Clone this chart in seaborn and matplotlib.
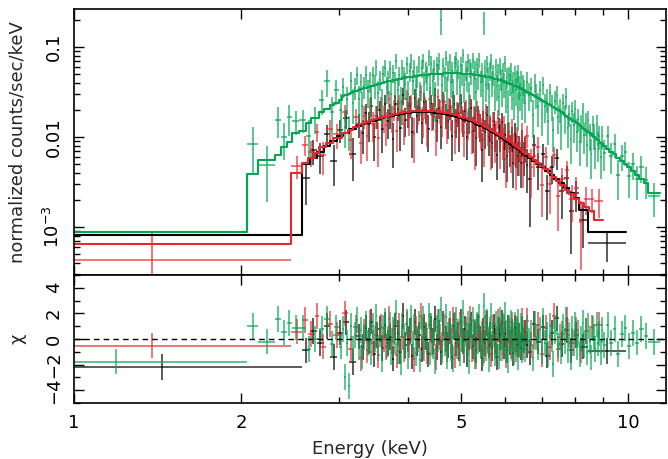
import numpy as np
import matplotlib
matplotlib.use("Agg")
import matplotlib.pyplot as plt
import seaborn as sns
from matplotlib.ticker import FixedLocator, FixedFormatter, NullFormatter, LogLocator, MultipleLocator

# bin edges in keV; data, 1-sigma errors and folded model in 1e-3 counts/sec/keV
black_edges = [1.00, 2.58, 2.66, 2.74, 2.82, 2.90, 2.98, 3.06, 3.14, 3.22, 3.30,
               3.34, 3.38, 3.42, 3.46, 3.50, 3.54, 3.58, 3.62, 3.66, 3.70, 3.74, 3.78, 3.82, 3.86, 3.90,
               3.94, 3.98, 4.02, 4.06, 4.10, 4.14, 4.18, 4.22, 4.26, 4.30, 4.34, 4.38, 4.42, 4.46, 4.50,
               4.54, 4.58, 4.62, 4.66, 4.70, 4.74, 4.78, 4.82, 4.86, 4.90, 4.94, 4.98, 5.02, 5.06, 5.10,
               5.14, 5.18, 5.22, 5.26, 5.30, 5.34, 5.38, 5.42, 5.46, 5.50, 5.54, 5.58, 5.62, 5.66, 5.70,
               5.74, 5.78, 5.82, 5.86, 5.90, 5.94, 5.98, 6.02, 6.06, 6.10, 6.14, 6.18, 6.22, 6.26, 6.30,
               6.34, 6.38, 6.42, 6.46, 6.50, 6.54, 6.58,
               6.70, 6.82, 6.95, 7.08, 7.22, 7.36, 7.51, 7.66, 7.82, 7.98, 8.15, 8.45, 9.90]
black_model = [0.82, 5.0, 5.8, 6.9, 8.0, 9.1, 10.2, 11.2, 12.2, 13.2,
               13.8, 14.2, 14.5, 14.9, 15.2, 15.6, 15.9, 16.2, 16.5, 16.8, 17.0, 17.2, 17.5, 17.7, 17.9,
               18.1, 18.3, 18.5, 18.6, 18.8, 18.9, 18.9, 19.0, 19.0, 19.0, 19.0, 18.9, 18.8, 18.8, 18.6,
               18.6, 18.4, 18.3, 18.1, 17.9, 17.7, 17.5, 17.3, 17.1, 16.9, 16.6, 16.4, 16.1, 15.9, 15.6,
               15.4, 15.1, 14.9, 14.6, 14.3, 14.0, 13.7, 13.4, 13.1, 12.8, 12.5, 12.2, 11.9, 11.6, 11.3,
               11.0, 10.8, 10.5, 10.2, 9.9, 9.7, 9.4, 9.2, 8.9, 8.7, 8.4, 8.2, 8.0, 7.8, 7.5, 7.3,
               7.1, 6.9, 6.7, 6.5, 6.3, 6.1,
               5.8, 5.4, 5.0, 4.6, 4.2, 3.8, 3.4, 3.05, 2.7, 2.4, 2.1, 1.55, 0.89]
black_err = [0.6, 1.7, 2.2, 2.3, 2.8, 2.6, 3.4, 3.8, 3.2, 4.2,
             4.5, 5, 5, 5.5, 4.5, 5, 5, 5.5, 6, 5.5, 5.5, 5, 6, 5.5, 5.5, 6, 5.5, 6, 6, 5.5,
             6.5, 6, 6, 6, 6, 6, 5.5, 6, 6, 6.5, 6, 5.5, 5.5, 6, 5.5, 5.5, 5.5, 5, 6, 5.5,
             5.5, 5.5, 6, 5, 5, 4.5, 5, 5.5, 5, 5, 5, 4.5, 4.5, 4, 4, 4, 4.5, 4, 4, 4,
             4, 3.5, 3, 3.5, 3.5, 4, 3.5, 3.5, 3, 3, 3, 3, 2.5, 3.5, 3, 2.5, 2.5, 2.5, 3, 2.5,
             2.5, 2.5,
             2.4, 2.3, 2.0, 2.0, 1.3, 1.6, 1.5, 1.3, 1.2, 1.0, 0.9, 0.6, 0.25]
black_data = [-0.5, 3.47, 7.12, 6.21, 10.8, 5.46, 11.9, 16.14, 6.44, 14.04,
              11.0, 18.5, 13.8, 22.4, 9.9, 17.2, 19.9, 12.2, 23.1, 15.1, 17.9, 9.5, 23.6, 20.4, 12.5,
              29.0, 15.6, 18.5, 22.3, 11.3, 27.4, 17.0, 20.9, 14.3, 24.7, 20.0, 12.3, 23.5, 17.9, 28.8,
              14.9, 21.2, 12.8, 25.3, 17.9, 15.0, 21.0, 10.4, 23.1, 15.2, 18.3, 12.3, 24.2, 15.1, 19.5,
              10.0, 15.9, 20.9, 11.7, 16.4, 9.8, 17.8, 13.4, 7.2, 15.4, 11.3, 17.7, 10.1, 12.8, 8.5,
              14.9, 10.3, 6.3, 12.8, 10.4, 14.6, 7.5, 10.6, 6.2, 11.3, 7.6, 9.8, 5.2, 10.9, 7.5, 6.2,
              7.8, 5.2, 9.0, 6.2, 7.6, 4.9,
              3.4, 8.16, 4.6, 6.4, 2.51, 4.6, 5.8, 2.53, 3.54, 1.5, 2.37, 1.19, 0.66]
black_low_energy = 1.44

red_edges = [1.00, 2.46, 2.58, 2.64, 2.72, 2.77, 2.85, 2.93, 3.04, 3.12, 3.19, 3.26, 3.32,
             3.36, 3.40, 3.44, 3.48, 3.52, 3.56, 3.60, 3.64, 3.68, 3.72, 3.76, 3.80, 3.84, 3.88, 3.92,
             3.96, 4.00, 4.04, 4.08, 4.12, 4.16, 4.20, 4.24, 4.28, 4.32, 4.36, 4.40, 4.44, 4.48, 4.52,
             4.56, 4.60, 4.64, 4.68, 4.72, 4.76, 4.80, 4.84, 4.88, 4.92, 4.96, 5.00, 5.04, 5.08, 5.12,
             5.16, 5.20, 5.24, 5.28, 5.32, 5.36, 5.40, 5.44, 5.48, 5.52, 5.56, 5.60, 5.64, 5.68, 5.72,
             5.76, 5.80, 5.84, 5.88, 5.92, 5.96, 6.00, 6.04, 6.08, 6.12, 6.16, 6.20, 6.24, 6.28, 6.32,
             6.36, 6.40, 6.44, 6.48, 6.52,
             6.62, 6.72, 6.82, 6.93, 7.04, 7.16, 7.28, 7.41, 7.54, 7.68, 7.83, 7.98, 8.14, 8.31, 8.49,
             8.68, 9.00]
red_model = [0.65, 4.0, 5.2, 5.9, 6.7, 7.8, 8.6, 9.7, 11.0, 12.0, 13.0, 13.8,
             14.4, 14.8, 15.0, 15.4, 15.7, 16.1, 16.3, 16.7, 16.9, 17.3, 17.5, 17.9, 18.1, 18.3, 18.6,
             18.8, 19.0, 19.2, 19.3, 19.5, 19.6, 19.7, 19.7, 19.7, 19.7, 19.7, 19.6, 19.5, 19.5, 19.3,
             19.2, 19.0, 18.9, 18.7, 18.5, 18.3, 18.1, 17.9, 17.6, 17.4, 17.1, 16.9, 16.6, 16.4, 16.1,
             15.9, 15.6, 15.3, 15.0, 14.7, 14.4, 14.1, 13.8, 13.5, 13.2, 12.9, 12.6, 12.3, 12.0, 11.7,
             11.4, 11.1, 10.8, 10.5, 10.2, 10.0, 9.7, 9.5, 9.2, 9.0, 8.7, 8.5, 8.2, 8.0, 7.7, 7.5,
             7.3, 7.1, 6.9, 6.7,
             6.4, 6.0, 5.6, 5.2, 4.8, 4.4, 4.0, 3.6, 3.25, 2.9, 2.6, 2.3, 2.05, 1.85, 1.65, 1.5, 1.2]
red_err = [0.42, 1.4, 2.0, 2.2, 2.6, 2.5, 3.2, 3.4, 4.0, 3.5, 4.0, 3.5,
           5, 5, 5.5, 5, 5, 5, 6, 5.5, 5.5, 6, 5.5, 5.5, 5, 5.5, 6, 6, 6.5, 6, 6, 5.5,
           6, 6, 6.5, 6, 6, 6, 6.5, 6, 6, 5.5, 6.5, 6, 6, 6, 5.5, 5.5, 5.5, 6, 5, 5.5,
           5.5, 6, 5.5, 5.5, 5.5, 5, 5.5, 5, 5, 4.5, 5.5, 5, 4.5, 4.5, 4.5, 4.5, 4, 4, 3.5, 4,
           4, 4, 4, 3.5, 3.5, 3.5, 4, 3, 3.5, 3.5, 3, 3.5, 3, 3, 3, 2.5, 2.5, 3, 2.5, 2.5,
           2.8, 2.6, 2.5, 2.3, 1.6, 1.8, 1.6, 1.5, 1.3, 1.2, 1.1, 0.9, 0.9, 0.8, 0.7, 0.6, 0.7]
red_data = [0.43, 4.8, 8.2, 6.8, 11.4, 6.3, 12.4, 10.7, 19.0, 9.2, 16.6, 8.55,
            17.3, 10.4, 21.8, 13.9, 17.3, 9.7, 22.0, 16.7, 13.5, 26.8, 16.6, 20.6, 11.8, 23.8, 19.5,
            14.1, 26.6, 16.3, 23.2, 10.7, 24.5, 19.7, 31.5, 15.8, 21.7, 13.8, 26.5, 17.6, 22.4, 11.6,
            27.8, 20.0, 16.1, 24.3, 13.9, 22.0, 17.2, 26.9, 11.4, 19.1, 13.7, 23.7, 16.6, 11.5, 20.1,
            14.3, 24.2, 11.5, 17.3, 8.8, 19.4, 14.8, 11.7, 16.2, 9.2, 18.7, 12.0, 13.5, 7.8, 15.2,
            9.1, 11.1, 16.2, 7.9, 12.2, 9.0, 13.1, 5.7, 10.1, 11.3, 7.0, 12.3, 7.8, 5.6, 10.0, 7.9,
            6.2, 11.4, 5.2, 7.7,
            10.3, 4.7, 6.1, 7.73, 2.9, 6.0, 3.0, 6.3, 2.21, 3.38, 4.25, 2.03, 2.68, 1.13, 2.07, 2.04, 1.97]
red_low_energy = 1.38

green_edges = [1.00, 2.05, 2.15, 2.30, 2.36, 2.42, 2.47, 2.55, 2.62, 2.68, 2.77, 2.83, 2.89, 2.95, 3.00, 3.05,
               3.075, 3.10, 3.125, 3.15, 3.175, 3.20, 3.225, 3.25, 3.275, 3.30, 3.325, 3.35, 3.375, 3.40,
               3.425, 3.45, 3.475, 3.50, 3.525, 3.55, 3.575, 3.60, 3.625, 3.65, 3.675, 3.70, 3.725, 3.75,
               3.775, 3.80, 3.825, 3.85, 3.875, 3.90, 3.925, 3.95, 3.975, 4.00,
               4.025, 4.05, 4.075, 4.10, 4.125, 4.15, 4.175, 4.20, 4.225, 4.25, 4.275, 4.30, 4.325, 4.35,
               4.375, 4.40, 4.425, 4.45, 4.475, 4.50, 4.525, 4.55, 4.575, 4.60, 4.625, 4.65, 4.675, 4.70,
               4.725, 4.75, 4.775, 4.80, 4.825, 4.85, 4.875, 4.90, 4.925, 4.95, 4.975, 5.00,
               5.025, 5.05, 5.075, 5.10, 5.125, 5.15, 5.175, 5.20, 5.225, 5.25, 5.275, 5.30, 5.325, 5.35,
               5.375, 5.40, 5.425, 5.45, 5.475, 5.50, 5.525, 5.55, 5.575, 5.60, 5.625, 5.65, 5.675, 5.70,
               5.725, 5.75, 5.775, 5.80, 5.825, 5.85, 5.875, 5.90, 5.925, 5.95, 5.975, 6.00,
               6.025, 6.05, 6.075, 6.10, 6.125, 6.15, 6.175, 6.20, 6.225, 6.25, 6.275, 6.30, 6.325, 6.35,
               6.375, 6.40, 6.425, 6.45, 6.475, 6.50,
               6.55, 6.60, 6.65, 6.70, 6.75, 6.80, 6.85, 6.90, 6.95, 7.00, 7.05, 7.10, 7.15, 7.20, 7.25,
               7.30, 7.35, 7.40, 7.45, 7.50, 7.55, 7.60, 7.65, 7.70, 7.75, 7.80, 7.85, 7.90, 7.95, 8.00,
               8.05, 8.10, 8.15, 8.20, 8.25, 8.30, 8.35, 8.40, 8.45, 8.50, 8.55, 8.60, 8.65, 8.70, 8.75,
               8.80, 8.85, 8.90, 8.95, 9.00,
               9.12, 9.25, 9.38, 9.52, 9.66, 9.81, 9.96, 10.12, 10.29, 10.47, 10.66, 10.87, 11.40]
green_model = [0.88, 3.9, 5.5, 6.3, 7.7, 8.9, 11.0, 11.7, 14.3, 16.2, 19.0, 20.5, 22.5, 24.0, 26.0,
               28.8, 29.3, 29.7, 30.4, 31.2, 31.8, 32.3, 32.8, 33.3, 33.8, 34.3, 34.8, 35.3, 35.8, 36.3,
               36.8, 37.3, 37.8, 38.3, 38.8, 39.3, 39.8, 40.3, 40.8, 41.3, 41.7, 42.1, 42.5, 42.8, 43.2,
               43.6, 44.0, 44.3, 44.7, 45.0, 45.4, 45.7, 46.0, 46.3, 46.6, 46.9, 47.1, 47.4, 47.6, 47.9,
               48.1, 48.4, 48.6, 48.8, 49.0, 49.2, 49.4, 49.5, 49.7, 49.8, 50.0, 50.1, 50.3, 50.4, 50.5,
               50.6, 50.7, 50.8, 50.9, 50.9, 51.0, 51.0, 51.0, 51.1, 51.1, 51.1, 51.1, 51.1, 51.1, 51.0,
               51.0, 50.9, 50.9, 50.8, 50.7, 50.6, 50.5, 50.4, 50.2, 50.1, 49.9, 49.8, 49.6, 49.5, 49.3,
               49.1, 48.9, 48.7, 48.5, 48.3, 48.1, 47.8, 47.6, 47.3, 47.1, 46.8, 46.5, 46.3, 46.0, 45.6,
               45.3, 45.1, 44.7, 44.4, 44.0, 43.7, 43.3, 43.0, 42.6, 42.3, 41.9, 41.6, 41.2, 40.8, 40.4,
               40.1, 39.7, 39.3, 38.9, 38.5, 38.1, 37.7, 37.3, 36.9, 36.5, 36.1, 35.7, 35.3, 34.9, 34.5,
               34.1, 33.7, 33.3,
               32.3, 31.7, 31.0, 30.3, 29.6, 28.9, 28.2, 27.4, 26.7, 26.0, 25.3, 24.7, 24.0, 23.4, 22.8,
               22.2, 21.6, 21.0, 20.4, 19.8, 19.3, 18.8, 18.3, 17.8, 17.3, 16.8, 16.4, 15.9, 15.5, 15.1,
               14.7, 14.3, 13.9, 13.5, 13.1, 12.7, 12.3, 12.0, 11.6, 11.3, 11.0, 10.7, 10.4, 10.1, 9.8,
               9.5, 9.2, 8.9, 8.6, 8.3,
               7.9, 7.4, 6.9, 6.4, 5.9, 5.4, 5.0, 4.6, 4.2, 3.8, 3.4, 3.05, 2.4]
green_err = [1.0, 4.4, 3.0, 5.9, 4.5, 6.2, 4.5, 4.5, 5.0, 5.5, 8.0, 14.0, 9.0, 10.0, 10.0,
             9, 5.5, 9, 5, 11, 10, 10, 11, 10, 10, 9, 10, 12, 11, 11, 11, 11, 11, 12, 11,
             11, 10, 12, 13, 12, 12, 13, 12, 12, 12, 13, 12, 12, 11, 13, 13, 13, 14, 12, 13,
             14, 13, 13, 13, 13, 14, 12, 13, 14, 14, 14, 14, 15, 14, 14, 14, 14, 13, 14, 14,
             15, 65, 14, 14, 14, 15, 13, 14, 15, 14, 14, 13, 14, 15, 14, 14, 14, 14, 14, 15,
             14, 14, 14, 15, 13, 14, 14, 15, 14, 14, 13, 13, 13, 14, 13, 13, 13, 55, 13, 13,
             14, 13, 12, 13, 14, 13, 13, 12, 13, 12, 12, 11, 13, 12, 12, 12, 12, 13, 12, 12,
             11, 11, 11, 12, 11, 11, 11, 12, 11, 11, 10, 12, 11, 10, 10, 10, 10, 10,
             10, 11, 10, 10, 8, 10, 9, 9, 9, 8, 9, 8, 8, 7, 8, 7, 5, 7, 7, 6,
             6, 6, 6, 6, 7, 5, 5, 4.5, 5, 5, 5.5, 4.5, 4.5, 4, 4.5, 5, 4, 4, 3.5, 4,
             3.5, 3, 3.8, 3.5, 3, 3.8, 3, 3, 2.6, 3,
             2.5, 2.8, 2.3, 2.4, 1.8, 2.0, 2.0, 1.6, 1.7, 1.4, 1.5, 1.3, 0.9]
green_data = [-0.88, 8.4, 4.9, 15.6, 10.0, 16.5, 15.0, 15.5, 10.3, 16.3, 25.5, 42.0, 19.0, 33.0, 20.0,
              36.0, 13.0, 26.7, 12.0, 42.1, 23.9, 35.5, 49.2, 26.6, 40.6, 22.3, 36.5, 49.4, 32.2, 41.7,
              25.8, 48.5, 37.8, 59.4, 31.0, 43.2, 23.9, 50.4, 59.2, 35.1, 41.7, 56.8, 29.8, 51.4, 41.0,
              69.8, 33.0, 48.7, 24.6, 58.5, 47.7, 38.8, 64.4, 30.1, 53.6, 70.4, 42.4, 59.3, 33.3, 47.9,
              64.9, 29.0, 58.3, 70.8, 39.2, 54.1, 46.9, 76.7, 34.8, 64.7, 42.5, 57.6, 27.7, 63.0, 50.5,
              70.8, 200.0, 38.1, 61.1, 45.8, 76.5, 33.2, 56.1, 69.0, 40.9, 53.7, 30.7, 66.4, 74.1, 43.4,
              58.7, 35.6, 63.6, 50.8, 81.1, 38.0, 55.6, 45.4, 67.8, 27.6, 59.9, 52.3, 71.9, 39.6, 56.7,
              31.9, 63.6, 46.3, 72.8, 41.1, 52.9, 33.5, 190.0, 59.1, 37.7, 65.5, 46.5, 27.8, 55.2, 70.7,
              40.8, 49.6, 31.3, 59.9, 37.4, 52.4, 28.1, 62.4, 44.7, 33.8, 54.5, 39.5, 65.9, 30.6, 46.5,
              22.1, 49.6, 39.3, 54.5, 30.8, 41.9, 26.4, 50.4, 33.2, 43.8, 21.7, 51.8, 37.1, 29.7, 44.9,
              25.6, 38.8, 33.3,
              24.2, 41.2, 29.5, 34.8, 17.8, 40.5, 29.6, 21.9, 33.4, 18.2, 38.0, 22.2, 26.4, 15.2, 30.8,
              22.2, 11.9, 25.2, 29.6, 16.8, 20.3, 13.2, 23.8, 16.9, 27.7, 12.6, 18.0, 9.5, 19.4, 13.6,
              20.6, 11.4, 16.0, 8.8, 13.1, 19.1, 10.5, 14.4, 8.1, 15.3, 10.5, 6.4, 13.5, 10.6, 7.4,
              13.8, 8.3, 10.2, 6.0, 10.4,
              6.7, 10.4, 6.2, 8.3, 3.8, 6.2, 6.75, 3.7, 5.0, 3.4, 4.6, 3.35, 2.2]
green_low_energy = 1.19

datasets = [
    ("black", black_edges, black_data, black_err, black_model, black_low_energy),
    ("#e8262b", red_edges, red_data, red_err, red_model, red_low_energy),
    ("#00a651", green_edges, green_data, green_err, green_model, green_low_energy),
]

sns.set_style("ticks")
plt.rcParams['font.family'] = ['DejaVu Sans']
plt.rcParams['font.size'] = 13
plt.rcParams['mathtext.default'] = 'regular'

fig = plt.figure(figsize=(6.68, 4.59), dpi=100)
ax1 = fig.add_axes([0.111, 0.401, 0.886, 0.579])
ax2 = fig.add_axes([0.111, 0.122, 0.886, 0.279], sharex=ax1)

for col, edges, data, err, model, e_low in datasets:
    assert len(edges) == len(data) + 1 == len(err) + 1 == len(model) + 1, col
    edges = np.array(edges)
    data = np.array(data) * 1e-3
    err = np.array(err) * 1e-3
    model = np.array(model) * 1e-3
    xc = 0.5 * (edges[:-1] + edges[1:])
    xc[0] = e_low
    xerr = [xc - edges[:-1], edges[1:] - xc]
    chi = (data - model) / err
    ax1.errorbar(xc, data, xerr=xerr, yerr=err, fmt='none', ecolor=col,
                 elinewidth=1.2, alpha=0.75)
    ax2.errorbar(xc, chi, xerr=xerr, yerr=np.ones_like(chi), fmt='none', ecolor=col,
                 elinewidth=1.2, alpha=0.75)

for col, edges, data, err, model, e_low in datasets:
    ystep = np.append(np.array(model), model[-1]) * 1e-3
    sns.lineplot(x=edges, y=ystep, drawstyle='steps-post', color=col, lw=1.5,
                 estimator=None, ax=ax1)

ax2.axhline(0, color='black', ls=(0, (4, 3)), lw=1)

ax1.set_xscale('log')
ax1.set_yscale('log')
ax1.set_xlim(1, 11.7)
ax1.set_ylim(2.93e-4, 0.264)
ax2.set_ylim(-5, 5)

ax1.xaxis.set_major_locator(FixedLocator([1, 2, 5, 10]))
ax1.xaxis.set_minor_locator(FixedLocator([3, 4, 6, 7, 8, 9]))
ax2.xaxis.set_major_formatter(FixedFormatter(['1', '2', '5', '10']))
ax2.xaxis.set_minor_formatter(NullFormatter())
ax1.tick_params(labelbottom=False)

ax1.set_yticks([1e-3, 1e-2, 1e-1], labels=[r'$10^{-3}$', '0.01', '0.1'], rotation=90, va='center')
ax1.yaxis.set_minor_locator(LogLocator(base=10, subs=(2, 3, 4, 5, 6, 7, 8, 9)))
ax1.yaxis.set_minor_formatter(NullFormatter())
ax2.set_yticks([-4, -2, 0, 2, 4], labels=['\u22124', '\u22122', '0', '2', '4'], rotation=90, va='center')
ax2.yaxis.set_minor_locator(MultipleLocator(1))

for ax in (ax1, ax2):
    ax.tick_params(which='both', direction='in', top=True, right=True, width=1, colors='black')
    ax.tick_params(which='major', length=7, pad=8)
    ax.tick_params(which='minor', length=4)
    for sp in ax.spines.values():
        sp.set_linewidth(1.2)
        sp.set_color('black')

ax1.set_ylabel('normalized counts/sec/keV')
ax2.set_ylabel('\u03c7')
ax1.yaxis.set_label_coords(-0.08, 0.5)
ax2.yaxis.set_label_coords(-0.08, 0.5)
ax2.set_xlabel('Energy (keV)', labelpad=6)

fig.savefig('out.png', dpi=100)
